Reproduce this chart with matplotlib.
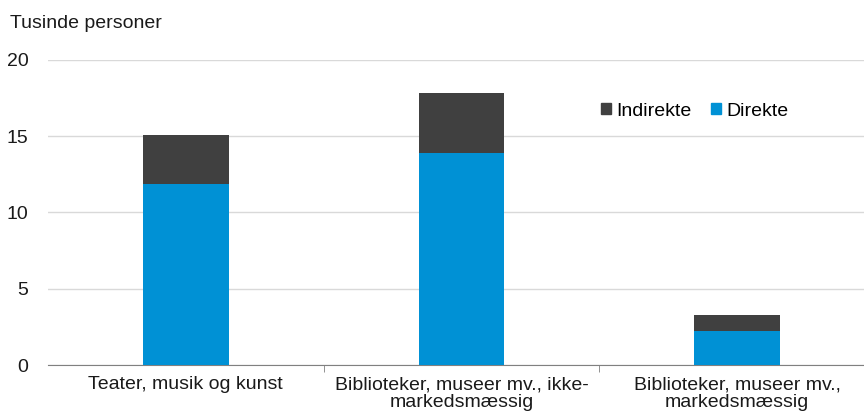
import matplotlib
matplotlib.use("Agg")
import matplotlib.pyplot as plt
from matplotlib.patches import Patch

categories = ["Teater, musik og kunst", "Biblioteker, museer mv., ikke-\nmarkedsmæssig", "Biblioteker, museer mv.,\nmarkedsmæssig"]
direkte = [11.85, 13.9, 2.25]
indirekte = [3.25, 3.95, 1.0]
yticks = [0, 5, 10, 15, 20]

plt.rcParams['font.family'] = ['Liberation Sans', 'DejaVu Sans']
blue = '#0091D5'
dark = '#404040'
txt = '#1a1a1a'

fig = plt.figure(figsize=(8.64, 4.19), dpi=100)
ax = fig.add_axes([48/864, 1 - 365/419, 1 - 48/864, (365 - 60)/419])
x = list(range(len(categories)))
ax.bar(x, direkte, width=0.31, color=blue, zorder=3)
ax.bar(x, indirekte, width=0.31, bottom=direkte, color=dark, zorder=3)
ax.set_xlim(-0.5, 2.46)
ax.set_ylim(0, 20)
ax.set_yticks(yticks)
ax.yaxis.grid(True, color='#d9d9d9', linewidth=1, zorder=0)
for s in ['top', 'right', 'left']:
    ax.spines[s].set_visible(False)
ax.spines['bottom'].set_color('#808080')
ax.tick_params(axis='y', length=0, labelsize=14, pad=14, colors=txt)
ax.set_xticks(x)
ax.set_xticklabels(categories, fontsize=14, color=txt)
for lab in ax.get_xticklabels():
    lab.set_linespacing(1.1)
ax.tick_params(axis='x', length=0, pad=8)
ax.set_xticks([0.5, 1.5], minor=True)
ax.tick_params(axis='x', which='minor', length=5, color='#808080', direction='out')
fig.text(10/864, 1 - 24/419, "Tusinde personer", fontsize=14, color=txt, va='center')

handles = [Patch(color=dark, label='Indirekte'), Patch(color=blue, label='Direkte')]
fig.legend(handles=handles, loc='center left', bbox_to_anchor=(601/864, 1 - 111/419), ncol=2, frameon=False,
           fontsize=14, handlelength=0.5, handleheight=0.5, handletextpad=0.3, columnspacing=1.0,
           borderpad=0, borderaxespad=0)
fig.savefig("out.png", dpi=100)
